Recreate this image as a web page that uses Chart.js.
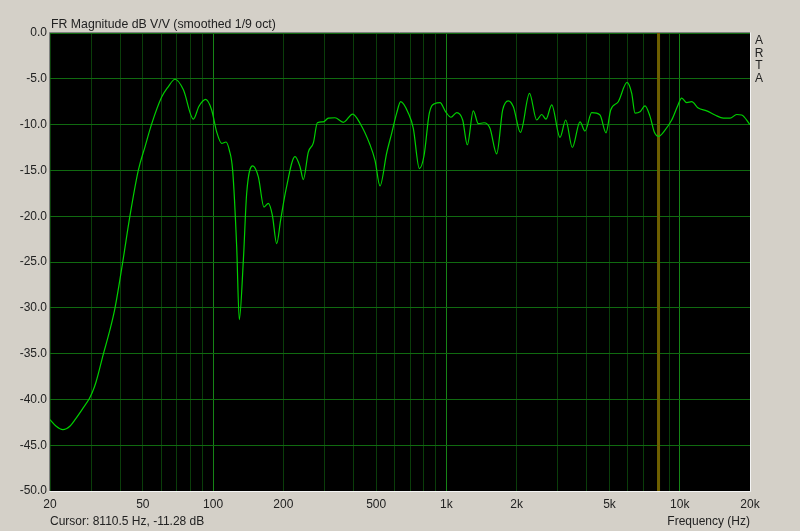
<!DOCTYPE html>
<html>
<head>
<meta charset="utf-8">
<script src="https://cdn.jsdelivr.net/npm/chart.js@4"></script>
<style>
  body { margin: 0; background: #d4d0c8; }
  #wrap { position: relative; width: 800px; height: 531px; background: #d4d0c8; font-family: "Liberation Sans", Arial, sans-serif; color: #222; }
  #frChart { position: absolute; left: 0; top: 0; }
  .lbl { position: absolute; font-size: 12px; line-height: 14px; white-space: nowrap; }
  #title { left: 51px; top: 17px; font-size: 12.3px; }
  #arta { left: 754px; top: 34px; width: 10px; line-height: 12.6px; text-align: center; }
  #cursor { left: 50px; top: 514px; }
  #freqLbl { right: 50px; top: 514px; }
</style>
</head>
<body>
<div id="wrap">
  <canvas id="frChart" width="800" height="531"></canvas>
  <div class="lbl" id="title">FR Magnitude dB V/V (smoothed 1/9 oct)</div>
  <div class="lbl" id="arta">A<br>R<br>T<br>A</div>
  <div class="lbl" id="cursor">Cursor: 8110.5 Hz, -11.28 dB</div>
  <div class="lbl" id="freqLbl">Frequency (Hz)</div>
</div>
<script>
// frequency response
const freqHz = [
  20, 21.2, 22.7, 24.4, 25.8, 27.8, 29.5, 30.4, 31.5, 33.9, 35.8, 38.0,
  41.0, 44.0, 47.8, 51.1, 54.6, 60.2, 64.1, 68.7, 74.6, 82.3,
  87.0, 92.9, 98.6, 103.6, 108.8, 113.6, 117.4, 121.3, 126.2, 129.5,
  134.8, 139.3, 147.8, 156.3, 165.2, 172.5, 179.5, 187.3, 194.8, 205.3,
  224.4, 235.8, 243.6, 255.9, 269.0, 279.8, 296.8, 311.8, 333, 361.4,
  396.6, 426.2, 470.4, 494.3, 519.2, 554.6, 582.6, 612, 636.8, 686.8,
  721.2, 765.4, 801.6, 844.6, 893.4, 938.6, 992.6, 1046, 1107, 1174,
  1229, 1304, 1370, 1449, 1537, 1642, 1742, 1842, 1935, 2077,
  2270, 2437, 2561, 2672, 2826, 3068, 3246, 3464, 3736, 3926,
  4194, 4551, 4830, 5058, 5453, 5944, 6224, 6431, 6756, 7096,
  7456, 7778, 8110, 8644, 9234, 9760, 10194, 10710, 11250, 12004,
  13044, 14158, 15372, 16422, 17540, 18426, 20000
];
const magDb = [
  -42.2, -42.9, -43.3, -42.9, -42.1, -40.9, -39.9, -39.2, -38.1, -35.0, -32.8, -30.0,
  -25.0, -20.0, -15.0, -12.4, -9.9, -7.0, -5.9, -5.05, -6.2, -9.4,
  -8.0, -7.25, -8.4, -10.8, -12.05, -11.9, -12.8, -15.0, -23.3, -31.3,
  -24.8, -17.5, -14.5, -15.7, -19.0, -18.6, -19.9, -23.0, -20.4, -17.1,
  -13.5, -14.6, -16.0, -13.0, -12.0, -9.8, -9.7, -9.3, -9.25, -9.75,
  -8.85, -9.85, -12.2, -13.9, -16.7, -13.1, -10.95, -8.75, -7.5, -8.75,
  -10.4, -14.8, -13.4, -8.75, -7.7, -7.6, -8.6, -9.2, -8.7, -9.5,
  -12.2, -8.5, -9.9, -9.8, -10.4, -13.2, -8.4, -7.4, -8.05, -10.85,
  -6.6, -9.5, -8.9, -9.4, -7.85, -11.4, -9.5, -12.5, -9.7, -10.7,
  -8.7, -8.95, -10.9, -8.4, -7.5, -5.4, -6.6, -8.75, -8.6, -7.95,
  -9.1, -10.8, -11.28, -10.6, -9.5, -8.05, -7.1, -7.6, -7.5, -8.2,
  -8.5, -8.95, -9.3, -9.3, -8.9, -8.95, -10.0
];

const cursorHz = 8110.5;

const gridFreqs = [
  20, 30, 40, 50, 60, 70, 80, 90,
  100, 200, 300, 400, 500, 600, 700, 800, 900,
  1000, 2000, 3000, 4000, 5000, 6000, 7000, 8000, 9000,
  10000, 20000
];
const labelFreqs = [20, 50, 100, 200, 500, 1000, 2000, 5000, 10000, 20000];
const decadeFreqs = [100, 1000, 10000];

const fmtHz = (v) => (v >= 1000 ? v / 1000 + "k" : String(v));
const vGridColors = gridFreqs.map((f) => (decadeFreqs.includes(f) ? "#168416" : "#0a3d0a"));

const ctx = document.getElementById("frChart").getContext("2d");

// black plot area, sunken frame like the ARTA window
const plotFrame = {
  id: "plotFrame",
  beforeDraw(chart) {
    const { ctx, chartArea: a } = chart;
    ctx.save();
    ctx.fillStyle = "#000";
    ctx.fillRect(a.left, a.top, a.right - a.left, a.bottom - a.top);
    ctx.restore();
  },
  afterDraw(chart) {
    const { ctx, chartArea: a } = chart;
    ctx.save();
    ctx.lineWidth = 1;
    ctx.strokeStyle = "#808080";
    ctx.beginPath();
    ctx.moveTo(a.left - 0.5, a.bottom);
    ctx.lineTo(a.left - 0.5, a.top - 0.5);
    ctx.lineTo(a.right, a.top - 0.5);
    ctx.stroke();
    ctx.strokeStyle = "#f4f4f4";
    ctx.beginPath();
    ctx.moveTo(a.right + 0.5, a.top - 0.5);
    ctx.lineTo(a.right + 0.5, a.bottom + 0.5);
    ctx.lineTo(a.left - 0.5, a.bottom + 0.5);
    ctx.stroke();
    ctx.restore();
  },
};

new Chart(ctx, {
  type: "line",
  data: {
    datasets: [
      {
        label: "cursor",
        data: [{ x: cursorHz, y: -50 }, { x: cursorHz, y: 0 }],
        borderColor: "#6e5f00",
        borderWidth: 3,
        pointRadius: 0,
        order: 2,
      },
      {
        label: "FR",
        data: freqHz.map((f, i) => ({ x: f, y: magDb[i] })),
        borderColor: "#00d000",
        borderWidth: 1.2,
        pointRadius: 0,
        cubicInterpolationMode: "monotone",
        order: 1,
      },
    ],
  },
  options: {
    responsive: false,
    animation: false,
    layout: { padding: { top: 33, right: 50, left: 0, bottom: 0 } },
    plugins: { legend: { display: false }, tooltip: { enabled: false } },
    scales: {
      x: {
        type: "logarithmic",
        min: 20,
        max: 20000,
        afterBuildTicks: (axis) => {
          axis.ticks = gridFreqs.map((v) => ({ value: v }));
        },
        afterFit: (axis) => { axis.height = 40; },
        grid: {
          drawTicks: false,
          lineWidth: 1,
          color: (c) => vGridColors[c.index] || "#0a3d0a",
        },
        border: { display: false },
        ticks: {
          autoSkip: false,
          maxRotation: 0,
          padding: 6,
          color: "#222",
          font: { family: "'Liberation Sans', Arial", size: 12 },
          callback: (v) => (labelFreqs.includes(v) ? fmtHz(v) : ""),
        },
      },
      y: {
        min: -50,
        max: 0,
        afterFit: (axis) => { axis.width = 50; },
        grid: { drawTicks: false, color: "#106a10", lineWidth: 1 },
        border: { display: false },
        ticks: {
          stepSize: 5,
          padding: 3,
          color: "#222",
          font: { family: "'Liberation Sans', Arial", size: 12 },
          callback: (v) => v.toFixed(1),
        },
      },
    },
  },
  plugins: [plotFrame],
});
</script>
</body>
</html>
